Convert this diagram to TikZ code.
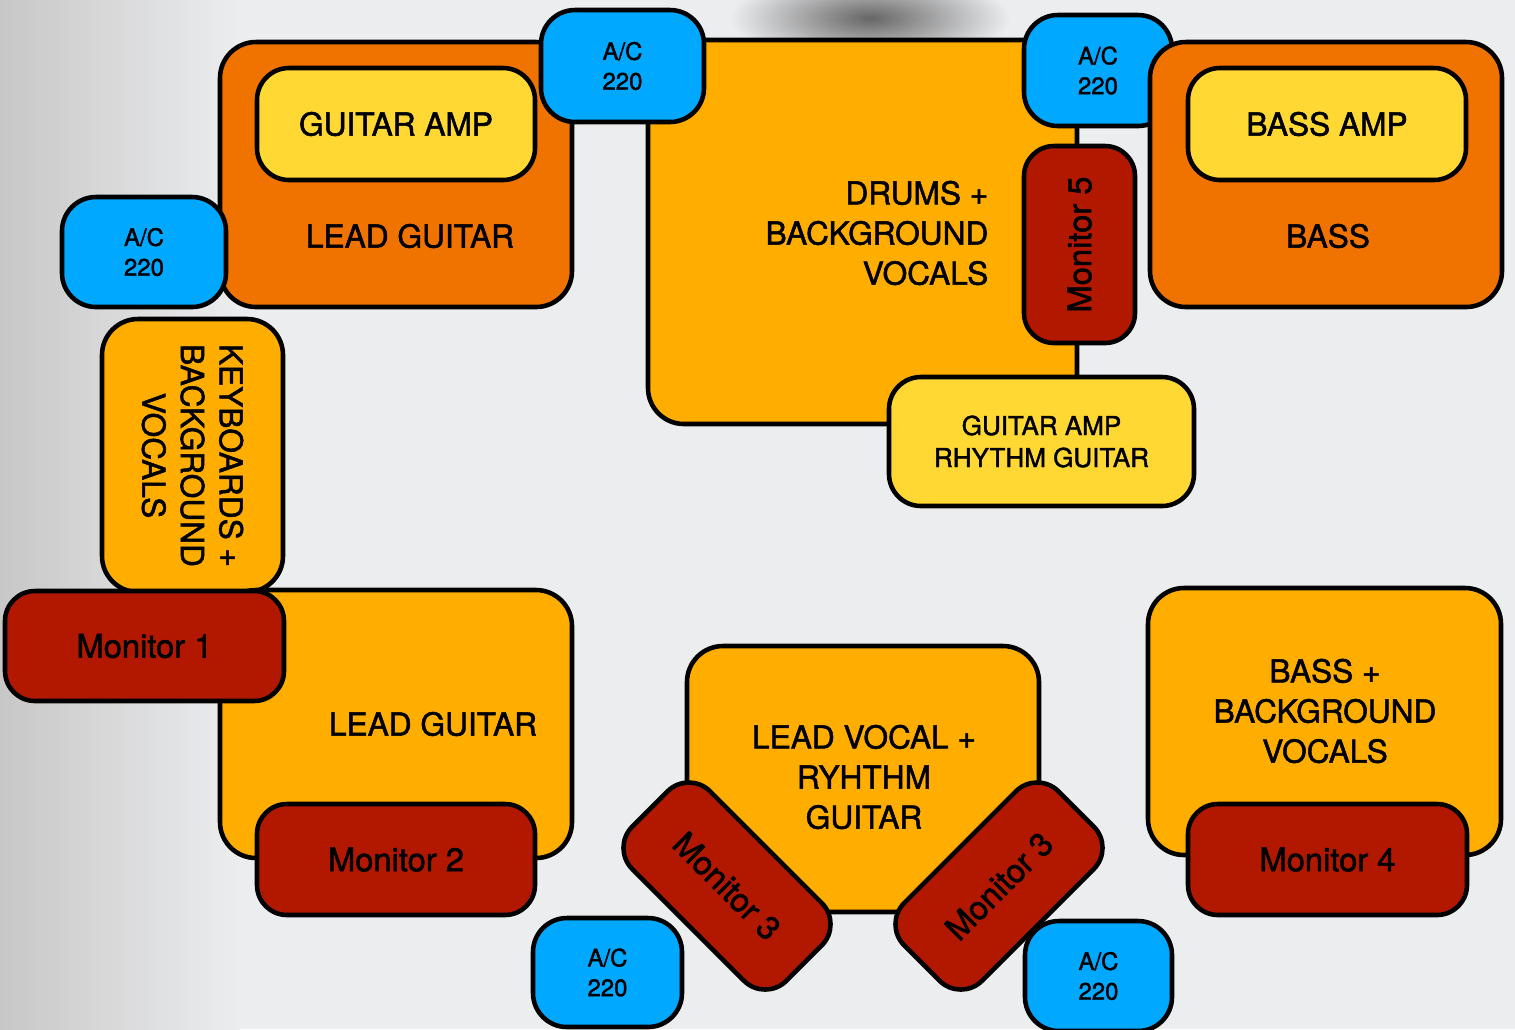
\documentclass[tikz,border=0pt]{standalone}
\usepackage{fontspec}
\setmainfont{TeX Gyre Heros}[FakeBold=1.6]
\definecolor{bgc}{RGB}{236,237,239}
\definecolor{ampc}{RGB}{255,216,52}
\definecolor{orangec}{RGB}{240,115,0}
\definecolor{amberc}{RGB}{255,174,0}
\definecolor{monc}{RGB}{178,24,0}
\definecolor{acc}{RGB}{0,168,255}
\tikzset{
  wh/.style 2 args = {minimum width = #1*0.01cm, minimum height = #2*0.01cm},
  box/.style = {draw, line width = 1.3pt, rounded corners = 0.36cm, inner sep = 0pt,
    align = center, font = \fontsize{9}{11.4}\selectfont},
  zone/.style = {box, fill = amberc},
  rig/.style = {box, fill = orangec},
  amp/.style = {box, fill = ampc, rounded corners = 0.32cm},
  monitor/.style = {box, fill = monc, rounded corners = 0.3cm, font = \fontsize{9.3}{11}\selectfont},
  acbox/.style = {box, fill = acc, rounded corners = 0.34cm, font = \fontsize{6.8}{8.5}\selectfont},
  lbl/.style = {inner sep = 0pt, align = center, font = \fontsize{9}{11.4}\selectfont}
}
\begin{document}
\begin{tikzpicture}[x = 0.01cm, y = -0.01cm]
\useasboundingbox (0,0) rectangle (1515,1029);
\fill[bgc] (0,0) rectangle (1515,1029);
\shade[left color = black!22, right color = bgc] (0,0) rectangle (240,1029);
\shade[inner color = black!60, outer color = bgc] (870,18) ellipse [x radius = 140, y radius = 48];
\node[rig, wh = {352}{265}] at (396,174.5) (gtrbox) {};
\node[amp, wh = {278}{112}] at (396,124) (gtramp) {GUITAR AMP};
\node[lbl] at (410,236) (gtrlbl) {LEAD GUITAR};
\node[zone, wh = {429}{384}] at (862.5,232) (drums) {};
\node[lbl, anchor = east, align = right] at (989,233) (drumlbl) {DRUMS +\\BACKGROUND\\VOCALS};
\node[acbox, wh = {163}{112}] at (622.5,66) (acA) {A/C\\220};
\node[acbox, wh = {148}{111}] at (1098,70.5) (acB) {A/C\\220};
\node[monitor, rotate = 90, wh = {197}{111}] at (1079.5,244.5) (mon5) {Monitor 5};
\node[rig, wh = {352}{265}] at (1326,174.5) (bassbox) {};
\node[amp, wh = {278}{112}] at (1327,124) (bassamp) {BASS AMP};
\node[lbl] at (1328,236) (basslbl) {BASS};
\node[amp, wh = {305}{129}, font = \fontsize{7.4}{9.1}\selectfont] at (1041.5,441.5) (rhyamp) {GUITAR AMP\\RHYTHM GUITAR};
\node[acbox, wh = {164}{110}] at (144,252) (acC) {A/C\\220};
\node[zone, rotate = -90, wh = {273}{181}, font = \fontsize{9}{11}\selectfont] at (192.5,455.5) (keys) {KEYBOARDS +\\BACKGROUND\\VOCALS};
\node[zone, wh = {352}{268}] at (396,724) (lgbox) {};
\node[lbl] at (433,724) (lglbl) {LEAD GUITAR};
\node[monitor, wh = {279}{110}] at (144.5,646) (mon1) {Monitor 1};
\node[monitor, wh = {278}{111}] at (396,859.5) (mon2) {Monitor 2};
\node[zone, wh = {352}{266}] at (863,779) (vocal) {};
\node[lbl] at (864,777) (vocallbl) {LEAD VOCAL +\\RYHTHM\\GUITAR};
\node[monitor, rotate = -45, wh = {218}{110}] at (727,886) (mon3a) {Monitor 3};
\node[monitor, rotate = 45, wh = {218}{110}] at (999,886) (mon3b) {Monitor 3};
\node[acbox, wh = {149}{109}] at (607.5,972.5) (acD) {A/C\\220};
\node[acbox, wh = {147}{110}] at (1098.5,976) (acE) {A/C\\220};
\node[zone, wh = {353}{267}] at (1324.5,721.5) (bvbox) {};
\node[lbl] at (1325,711) (bvlbl) {BASS +\\BACKGROUND\\VOCALS};
\node[monitor, wh = {279}{111}] at (1327.5,859.5) (mon4) {Monitor 4};
\end{tikzpicture}
\end{document}
